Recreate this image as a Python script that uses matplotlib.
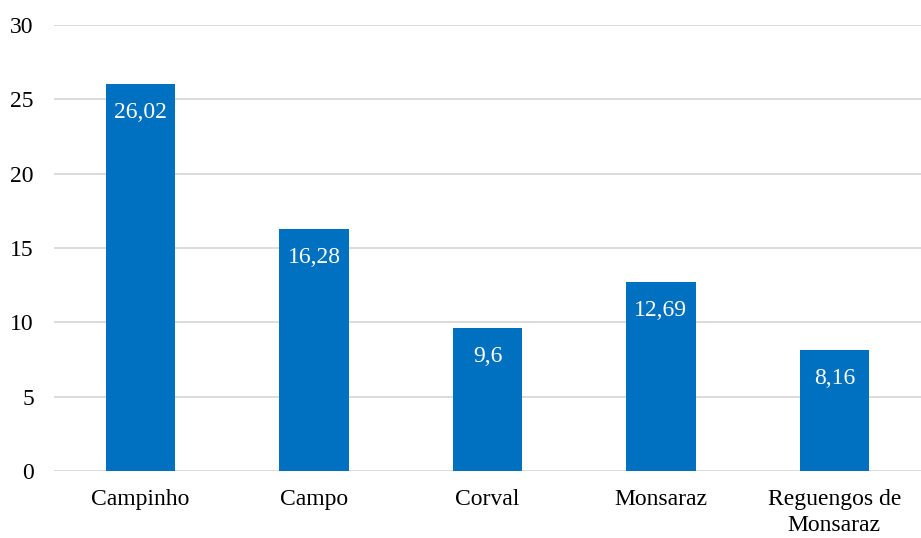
import matplotlib
matplotlib.use("Agg")
import matplotlib.pyplot as plt
import numpy as np

# data
categories = ["Campinho", "Campo", "Corval", "Monsaraz", "Reguengos de\nMonsaraz"]
values = [26.02, 16.28, 9.6, 12.69, 8.16]
value_labels = ["26,02", "16,28", "9,6", "12,69", "8,16"]
yticks = [0, 5, 10, 15, 20, 25, 30]

plt.rcParams['font.family'] = ['Liberation Serif', 'DejaVu Serif']

fig = plt.figure(figsize=(9.21, 5.38), dpi=100)
ax = fig.add_axes([0.0586, 0.1245, 0.9414, 0.829])

x = np.arange(len(categories))
bars = ax.bar(x, values, width=0.40, color="#0070C0", zorder=3)

# value labels sit inside the top of each bar
for b, lab in zip(bars, value_labels):
    ax.annotate(lab, (b.get_x() + b.get_width() / 2, b.get_height()),
                xytext=(0, -20.5), textcoords="offset points",
                ha="center", va="center", color="white", fontsize=17, zorder=4)

ax.set_xlim(-0.5, len(categories) - 0.5)
ax.set_ylim(0, 30)
ax.set_yticks(yticks)
ax.set_yticklabels([str(t) for t in yticks], fontsize=17)
ax.set_xticks(x)
ax.set_xticklabels(categories, fontsize=17, linespacing=1.3)
ax.tick_params(axis="both", length=0)
ax.tick_params(axis="y", pad=14.5)
ax.tick_params(axis="x", pad=13)

ax.yaxis.grid(True, color="#D9D9D9", linewidth=1.3, zorder=0)
for s in ax.spines.values():
    s.set_visible(False)

fig.savefig("out.png", dpi=100)
